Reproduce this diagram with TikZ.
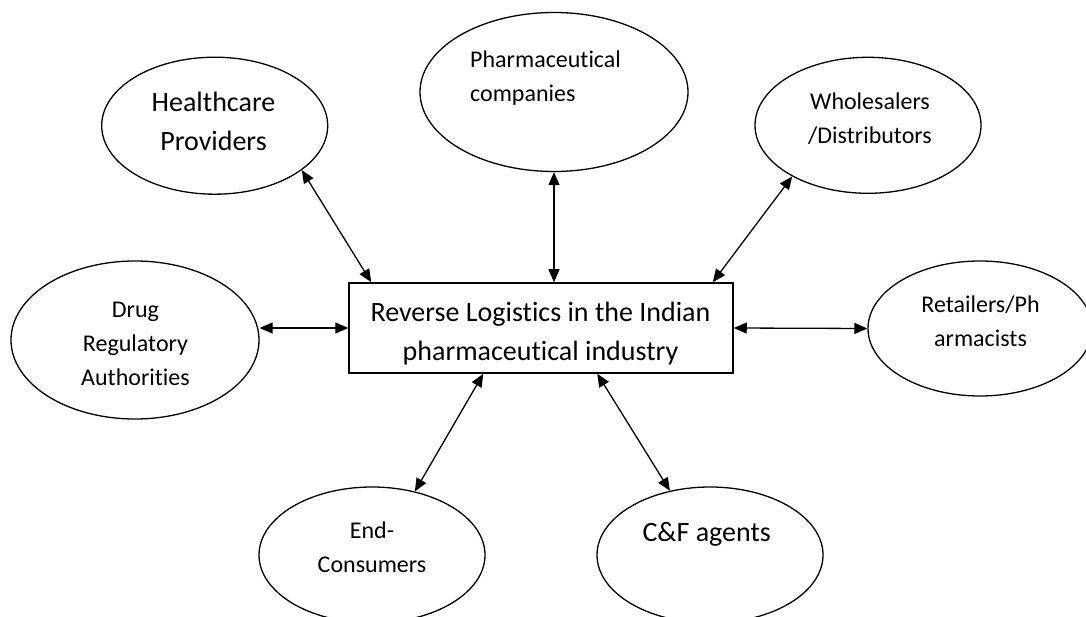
\documentclass[tikz,border=0pt]{standalone}
\usepackage{fontspec}
\setmainfont{Carlito}[Ligatures=NoCommon]
\usetikzlibrary{shapes.geometric,arrows.meta}

\begin{document}
\begin{tikzpicture}[x=1pt,y=-1pt,
  blob/.style={ellipse,draw,line width=1.3pt,inner sep=0pt},
  big/.style={font=\fontsize{28}{39.3}\selectfont,align=center,inner sep=0pt},
  small/.style={font=\fontsize{24}{33.7}\selectfont,align=center,inner sep=0pt},
  link/.style={line width=1.3pt,{Triangle[length=13pt,width=11pt]}-{Triangle[length=13pt,width=11pt]}}]
\clip (0,0) rectangle (1086,617);
\fill[white] (0,0) rectangle (1086,617);

% central box
\node[draw,line width=1.5pt,minimum width=384pt,minimum height=90pt,inner sep=0pt] (box) at (541,328) {};
\node[big] (boxtxt) at (540.5,333.8) {Reverse Logistics in the Indian\\pharmaceutical industry};

% surrounding stakeholders
\node[blob,minimum width=226pt,minimum height=137pt] (hc) at (214.7,125.7) {};
\node[big] at (213.5,121.7) {Healthcare\\Providers};

\node[blob,minimum width=268pt,minimum height=159pt] (ph) at (554,92) {};
\node[small,align=left,anchor=west] at (470,78) {Pharmaceutical\\companies};

\node[blob,minimum width=226pt,minimum height=136pt] (ws) at (868,125.3) {};
\node[small] at (870,118.8) {Wholesalers\\/Distributors};

\node[blob,minimum width=248pt,minimum height=158pt] (dr) at (135,340) {};
\node[small] at (135.5,343.7) {Drug\\Regulatory\\Authorities};

\node[blob,minimum width=224pt,minimum height=135pt] (rt) at (980,328.5) {};
\node[small] at (980.5,321.3) {Retailers/Ph\\armacists};

\node[blob,minimum width=226pt,minimum height=136pt] (ec) at (372,555) {};
\node[small] at (372,547.5) {End-\\Consumers};

\node[blob,minimum width=226pt,minimum height=136pt] (cf) at (710,555) {};
\node[big] at (706.7,534.7) {C\&F agents};

% two-way links
\draw[link] (hc.-27) -- ([xshift=23pt]box.north west);
\draw[link] (ph.south) -- (ph.south |- box.north);
\draw[link] (ws.214.5) -- ([xshift=-21pt]box.north east);
\draw[link] (box.west -| dr.east) -- (box.west);
\draw[link] (box.east) -- (rt.west);
\draw[link] ([xshift=135pt]box.south west) -- (ec.56.5);
\draw[link] ([xshift=249pt]box.south west) -- (cf.122.7);
\end{tikzpicture}
\end{document}
